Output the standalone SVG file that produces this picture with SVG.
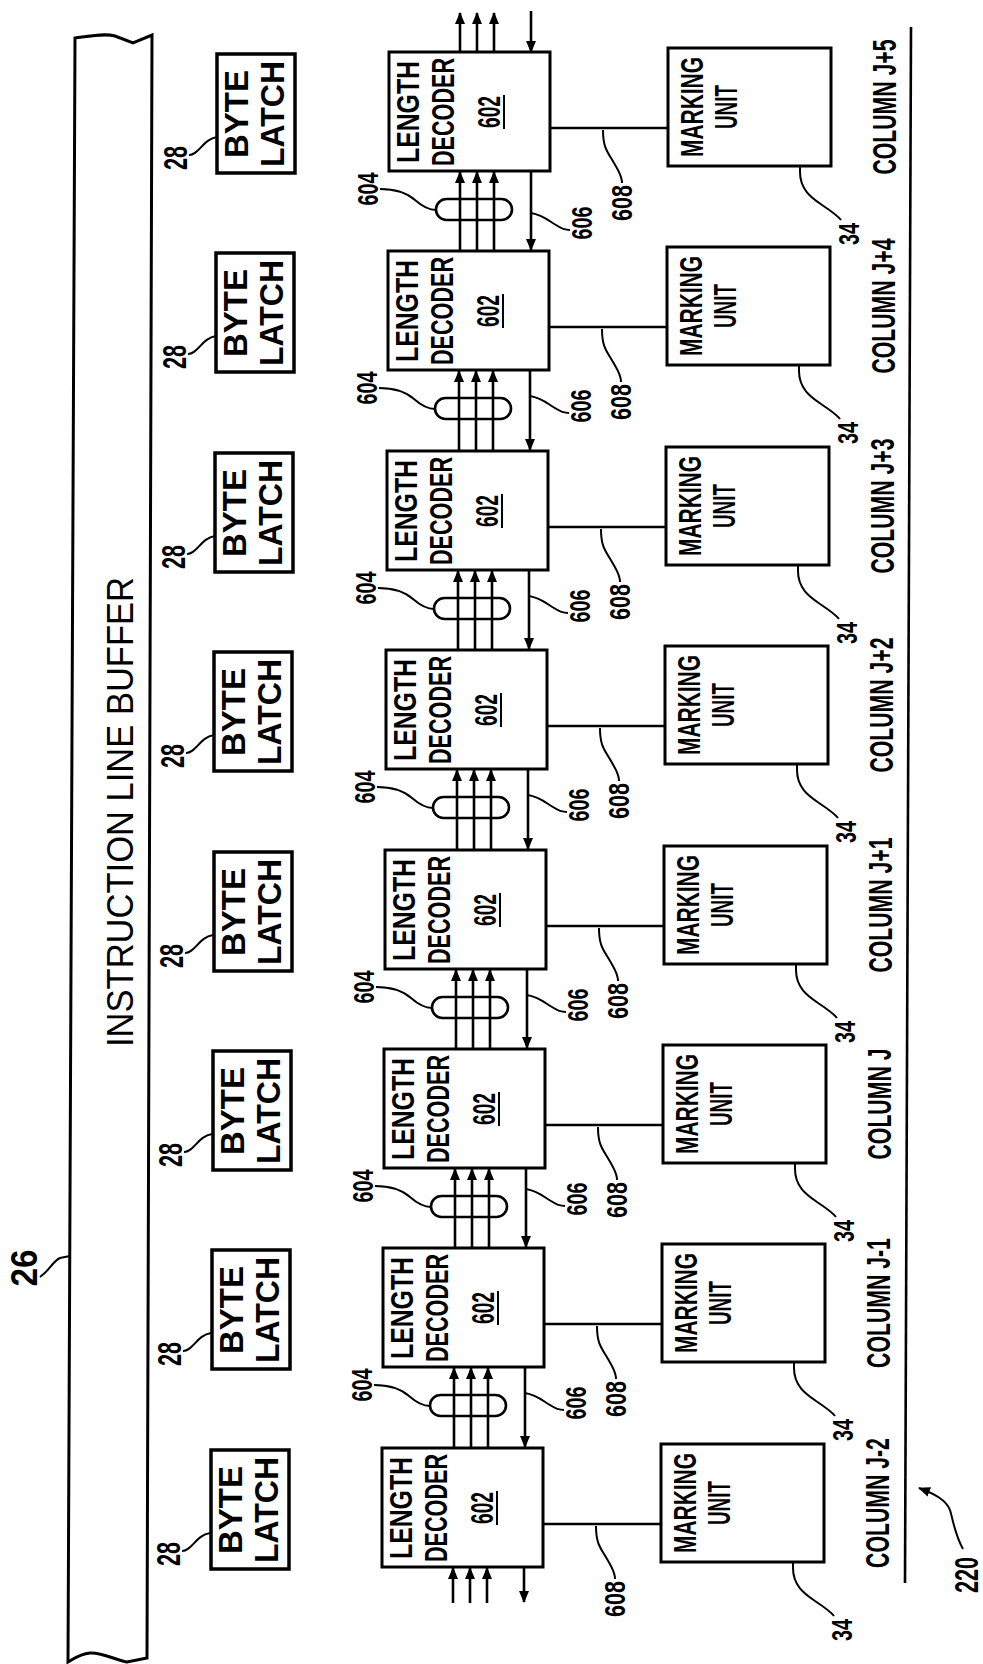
<svg xmlns="http://www.w3.org/2000/svg" width="983" height="1664" viewBox="0 0 983 1664">
<style>
.bx{fill:none;stroke:#000;stroke-width:3}
.bl{fill:none;stroke:#000;stroke-width:3.5}
.ln{fill:none;stroke:#000;stroke-width:2.6}
.ld{fill:none;stroke:#000;stroke-width:2}
.ar{fill:none;stroke:#000;stroke-width:2.6;marker-end:url(#ah)}
text{font-family:"Liberation Sans",Arial,sans-serif;fill:#000;font-weight:bold}
text.reg{font-weight:normal}
text.col{font-size:34px;text-anchor:middle}
.s31{font-size:31px}
.s33{font-size:33px}
.s34{font-size:34px}
.s30{font-size:30px}
.s36{font-size:36px}
</style>
<defs>
<marker id="ah" viewBox="0 0 12 10" refX="11" refY="5" markerWidth="12" markerHeight="10" orient="auto" markerUnits="userSpaceOnUse"><path d="M0,0 L12,5 L0,10 Z" fill="#000"/></marker>
</defs>
<rect width="983" height="1664" fill="#fff"/>

<g id="buffer">
<path class="bx" d="M75,38 C90,36 105,33 115,36 L133,43 L152,35 L147,1658 L127,1662 C115,1660 102,1652 90,1653 C80,1654 75,1658 68,1662 Z"/>
<text class="s36 reg" transform="translate(133,812) rotate(-90)" x="-235" textLength="470" lengthAdjust="spacingAndGlyphs">INSTRUCTION LINE BUFFER</text>
</g>

<!-- byte latches -->
<g id="bl-j5" transform="translate(217,54)"><rect class="bl" width="78" height="119"/><text class="s33" transform="translate(31,60) rotate(-90)" x="-44" textLength="88" lengthAdjust="spacingAndGlyphs">BYTE</text><text class="s33" transform="translate(67,60) rotate(-90)" x="-53" textLength="106" lengthAdjust="spacingAndGlyphs">LATCH</text></g>
<g id="bl-j4" transform="translate(216,253)"><rect class="bl" width="78" height="119"/><text class="s33" transform="translate(31,60) rotate(-90)" x="-44" textLength="88" lengthAdjust="spacingAndGlyphs">BYTE</text><text class="s33" transform="translate(67,60) rotate(-90)" x="-53" textLength="106" lengthAdjust="spacingAndGlyphs">LATCH</text></g>
<g id="bl-j3" transform="translate(215,453)"><rect class="bl" width="78" height="119"/><text class="s33" transform="translate(31,60) rotate(-90)" x="-44" textLength="88" lengthAdjust="spacingAndGlyphs">BYTE</text><text class="s33" transform="translate(67,60) rotate(-90)" x="-53" textLength="106" lengthAdjust="spacingAndGlyphs">LATCH</text></g>
<g id="bl-j2" transform="translate(214,652)"><rect class="bl" width="78" height="119"/><text class="s33" transform="translate(31,60) rotate(-90)" x="-44" textLength="88" lengthAdjust="spacingAndGlyphs">BYTE</text><text class="s33" transform="translate(67,60) rotate(-90)" x="-53" textLength="106" lengthAdjust="spacingAndGlyphs">LATCH</text></g>
<g id="bl-j1" transform="translate(214,852)"><rect class="bl" width="78" height="119"/><text class="s33" transform="translate(31,60) rotate(-90)" x="-44" textLength="88" lengthAdjust="spacingAndGlyphs">BYTE</text><text class="s33" transform="translate(67,60) rotate(-90)" x="-53" textLength="106" lengthAdjust="spacingAndGlyphs">LATCH</text></g>
<g id="bl-j" transform="translate(213,1051)"><rect class="bl" width="78" height="119"/><text class="s33" transform="translate(31,60) rotate(-90)" x="-44" textLength="88" lengthAdjust="spacingAndGlyphs">BYTE</text><text class="s33" transform="translate(67,60) rotate(-90)" x="-53" textLength="106" lengthAdjust="spacingAndGlyphs">LATCH</text></g>
<g id="bl-jm1" transform="translate(212,1250)"><rect class="bl" width="78" height="119"/><text class="s33" transform="translate(31,60) rotate(-90)" x="-44" textLength="88" lengthAdjust="spacingAndGlyphs">BYTE</text><text class="s33" transform="translate(67,60) rotate(-90)" x="-53" textLength="106" lengthAdjust="spacingAndGlyphs">LATCH</text></g>
<g id="bl-jm2" transform="translate(211,1450)"><rect class="bl" width="78" height="119"/><text class="s33" transform="translate(31,60) rotate(-90)" x="-44" textLength="88" lengthAdjust="spacingAndGlyphs">BYTE</text><text class="s33" transform="translate(67,60) rotate(-90)" x="-53" textLength="106" lengthAdjust="spacingAndGlyphs">LATCH</text></g>

<!-- length decoders -->
<g id="ld-j5" transform="translate(389,52)"><rect class="bx" width="161" height="119"/><text class="s31" transform="translate(30,60) rotate(-90)" x="-51" textLength="102" lengthAdjust="spacingAndGlyphs">LENGTH</text><text class="s31" transform="translate(65,60) rotate(-90)" x="-54" textLength="108" lengthAdjust="spacingAndGlyphs">DECODER</text><text class="s31" transform="translate(111,60) rotate(-90)" x="-16" textLength="32" lengthAdjust="spacingAndGlyphs">602</text><path class="ld" d="M115,43 V77"/></g>
<g id="ld-j4" transform="translate(388,251)"><rect class="bx" width="161" height="119"/><text class="s31" transform="translate(30,60) rotate(-90)" x="-51" textLength="102" lengthAdjust="spacingAndGlyphs">LENGTH</text><text class="s31" transform="translate(65,60) rotate(-90)" x="-54" textLength="108" lengthAdjust="spacingAndGlyphs">DECODER</text><text class="s31" transform="translate(111,60) rotate(-90)" x="-16" textLength="32" lengthAdjust="spacingAndGlyphs">602</text><path class="ld" d="M115,43 V77"/></g>
<g id="ld-j3" transform="translate(387,451)"><rect class="bx" width="161" height="119"/><text class="s31" transform="translate(30,60) rotate(-90)" x="-51" textLength="102" lengthAdjust="spacingAndGlyphs">LENGTH</text><text class="s31" transform="translate(65,60) rotate(-90)" x="-54" textLength="108" lengthAdjust="spacingAndGlyphs">DECODER</text><text class="s31" transform="translate(111,60) rotate(-90)" x="-16" textLength="32" lengthAdjust="spacingAndGlyphs">602</text><path class="ld" d="M115,43 V77"/></g>
<g id="ld-j2" transform="translate(386,650)"><rect class="bx" width="161" height="119"/><text class="s31" transform="translate(30,60) rotate(-90)" x="-51" textLength="102" lengthAdjust="spacingAndGlyphs">LENGTH</text><text class="s31" transform="translate(65,60) rotate(-90)" x="-54" textLength="108" lengthAdjust="spacingAndGlyphs">DECODER</text><text class="s31" transform="translate(111,60) rotate(-90)" x="-16" textLength="32" lengthAdjust="spacingAndGlyphs">602</text><path class="ld" d="M115,43 V77"/></g>
<g id="ld-j1" transform="translate(385,850)"><rect class="bx" width="161" height="119"/><text class="s31" transform="translate(30,60) rotate(-90)" x="-51" textLength="102" lengthAdjust="spacingAndGlyphs">LENGTH</text><text class="s31" transform="translate(65,60) rotate(-90)" x="-54" textLength="108" lengthAdjust="spacingAndGlyphs">DECODER</text><text class="s31" transform="translate(111,60) rotate(-90)" x="-16" textLength="32" lengthAdjust="spacingAndGlyphs">602</text><path class="ld" d="M115,43 V77"/></g>
<g id="ld-j" transform="translate(384,1049)"><rect class="bx" width="161" height="119"/><text class="s31" transform="translate(30,60) rotate(-90)" x="-51" textLength="102" lengthAdjust="spacingAndGlyphs">LENGTH</text><text class="s31" transform="translate(65,60) rotate(-90)" x="-54" textLength="108" lengthAdjust="spacingAndGlyphs">DECODER</text><text class="s31" transform="translate(111,60) rotate(-90)" x="-16" textLength="32" lengthAdjust="spacingAndGlyphs">602</text><path class="ld" d="M115,43 V77"/></g>
<g id="ld-jm1" transform="translate(383,1248)"><rect class="bx" width="161" height="119"/><text class="s31" transform="translate(30,60) rotate(-90)" x="-51" textLength="102" lengthAdjust="spacingAndGlyphs">LENGTH</text><text class="s31" transform="translate(65,60) rotate(-90)" x="-54" textLength="108" lengthAdjust="spacingAndGlyphs">DECODER</text><text class="s31" transform="translate(111,60) rotate(-90)" x="-16" textLength="32" lengthAdjust="spacingAndGlyphs">602</text><path class="ld" d="M115,43 V77"/></g>
<g id="ld-jm2" transform="translate(382,1448)"><rect class="bx" width="161" height="119"/><text class="s31" transform="translate(30,60) rotate(-90)" x="-51" textLength="102" lengthAdjust="spacingAndGlyphs">LENGTH</text><text class="s31" transform="translate(65,60) rotate(-90)" x="-54" textLength="108" lengthAdjust="spacingAndGlyphs">DECODER</text><text class="s31" transform="translate(111,60) rotate(-90)" x="-16" textLength="32" lengthAdjust="spacingAndGlyphs">602</text><path class="ld" d="M115,43 V77"/></g>

<!-- marking units -->
<g id="mu-j5" transform="translate(668,48)"><rect class="bx" width="163" height="118"/><text class="s31" transform="translate(35,59) rotate(-90)" x="-50" textLength="100" lengthAdjust="spacingAndGlyphs">MARKING</text><text class="s31" transform="translate(69,59) rotate(-90)" x="-22" textLength="44" lengthAdjust="spacingAndGlyphs">UNIT</text></g>
<g id="mu-j4" transform="translate(667,247)"><rect class="bx" width="163" height="118"/><text class="s31" transform="translate(35,59) rotate(-90)" x="-50" textLength="100" lengthAdjust="spacingAndGlyphs">MARKING</text><text class="s31" transform="translate(69,59) rotate(-90)" x="-22" textLength="44" lengthAdjust="spacingAndGlyphs">UNIT</text></g>
<g id="mu-j3" transform="translate(666,447)"><rect class="bx" width="163" height="118"/><text class="s31" transform="translate(35,59) rotate(-90)" x="-50" textLength="100" lengthAdjust="spacingAndGlyphs">MARKING</text><text class="s31" transform="translate(69,59) rotate(-90)" x="-22" textLength="44" lengthAdjust="spacingAndGlyphs">UNIT</text></g>
<g id="mu-j2" transform="translate(665,646)"><rect class="bx" width="163" height="118"/><text class="s31" transform="translate(35,59) rotate(-90)" x="-50" textLength="100" lengthAdjust="spacingAndGlyphs">MARKING</text><text class="s31" transform="translate(69,59) rotate(-90)" x="-22" textLength="44" lengthAdjust="spacingAndGlyphs">UNIT</text></g>
<g id="mu-j1" transform="translate(664,846)"><rect class="bx" width="163" height="118"/><text class="s31" transform="translate(35,59) rotate(-90)" x="-50" textLength="100" lengthAdjust="spacingAndGlyphs">MARKING</text><text class="s31" transform="translate(69,59) rotate(-90)" x="-22" textLength="44" lengthAdjust="spacingAndGlyphs">UNIT</text></g>
<g id="mu-j" transform="translate(663,1045)"><rect class="bx" width="163" height="118"/><text class="s31" transform="translate(35,59) rotate(-90)" x="-50" textLength="100" lengthAdjust="spacingAndGlyphs">MARKING</text><text class="s31" transform="translate(69,59) rotate(-90)" x="-22" textLength="44" lengthAdjust="spacingAndGlyphs">UNIT</text></g>
<g id="mu-jm1" transform="translate(662,1244)"><rect class="bx" width="163" height="118"/><text class="s31" transform="translate(35,59) rotate(-90)" x="-50" textLength="100" lengthAdjust="spacingAndGlyphs">MARKING</text><text class="s31" transform="translate(69,59) rotate(-90)" x="-22" textLength="44" lengthAdjust="spacingAndGlyphs">UNIT</text></g>
<g id="mu-jm2" transform="translate(661,1444)"><rect class="bx" width="163" height="118"/><text class="s31" transform="translate(35,59) rotate(-90)" x="-50" textLength="100" lengthAdjust="spacingAndGlyphs">MARKING</text><text class="s31" transform="translate(69,59) rotate(-90)" x="-22" textLength="44" lengthAdjust="spacingAndGlyphs">UNIT</text></g>

<!-- column boundary line -->
<g id="column-line"><path class="ln" d="M911,27 L905,1583"/></g>

<!-- connectors -->
<g id="connectors">
<path class="ld" d="M40,1277 C50,1270 52,1262 60,1258 L70,1256"/>
<path class="ld" d="M963,1549 C955,1535 953,1520 950,1510 C946,1500 935,1494 919,1488" marker-end="url(#ah)"/>
<g transform="translate(389,52)">
<path class="ar" d="M71,0 V-39"/><path class="ar" d="M88,0 V-39"/><path class="ar" d="M105,0 V-39"/><path class="ar" d="M142,-41 V0"/>
<path class="ln" d="M161,76 H279"/><path class="ld" d="M214,78 c0,15 3,20 8,28 c6,10 11,18 11,25"/>
<path class="ar" d="M71,199 V120"/><path class="ar" d="M88,199 V120"/><path class="ar" d="M105,199 V120"/><path class="ar" d="M142,119 V198"/>
<rect class="ln" x="47" y="147" width="76" height="21" rx="10.5"/>
<path class="ld" d="M-9,137 C8,137 18,141 26,148 S40,158 47,158"/>
<path class="ld" d="M142,161 c12,2 18,8 25,12 c6,4 10,5 14,5"/>
<path class="ld" d="M411,114 v6 c0,18 12,26 22,33 c9,6 16,11 19,15"/>
<path class="ld" d="M-200,103 C-190,103 -186,87 -172,85"/>
</g>
<g transform="translate(388,251)">
<path class="ln" d="M161,76 H279"/><path class="ld" d="M214,78 c0,15 3,20 8,28 c6,10 11,18 11,25"/>
<path class="ar" d="M71,200 V120"/><path class="ar" d="M88,200 V120"/><path class="ar" d="M105,200 V120"/><path class="ar" d="M142,119 V199"/>
<rect class="ln" x="47" y="147" width="76" height="21" rx="10.5"/>
<path class="ld" d="M-9,137 C8,137 18,141 26,148 S40,158 47,158"/>
<path class="ld" d="M142,145 c12,2 18,8 25,12 c6,4 10,5 14,5"/>
<path class="ld" d="M411,114 v6 c0,18 12,26 22,33 c9,6 16,11 19,15"/>
<path class="ld" d="M-200,103 C-190,103 -186,87 -172,85"/>
</g>
<g transform="translate(387,451)">
<path class="ln" d="M161,76 H279"/><path class="ld" d="M214,78 c0,15 3,20 8,28 c6,10 11,18 11,25"/>
<path class="ar" d="M71,199 V120"/><path class="ar" d="M88,199 V120"/><path class="ar" d="M105,199 V120"/><path class="ar" d="M142,119 V198"/>
<rect class="ln" x="47" y="147" width="76" height="21" rx="10.5"/>
<path class="ld" d="M-9,137 C8,137 18,141 26,148 S40,158 47,158"/>
<path class="ld" d="M142,145 c12,2 18,8 25,12 c6,4 10,5 14,5"/>
<path class="ld" d="M411,114 v6 c0,18 12,26 22,33 c9,6 16,11 19,15"/>
<path class="ld" d="M-200,103 C-190,103 -186,87 -172,85"/>
</g>
<g transform="translate(386,650)">
<path class="ln" d="M161,76 H279"/><path class="ld" d="M214,78 c0,15 3,20 8,28 c6,10 11,18 11,25"/>
<path class="ar" d="M71,200 V120"/><path class="ar" d="M88,200 V120"/><path class="ar" d="M105,200 V120"/><path class="ar" d="M142,119 V199"/>
<rect class="ln" x="47" y="147" width="76" height="21" rx="10.5"/>
<path class="ld" d="M-9,137 C8,137 18,141 26,148 S40,158 47,158"/>
<path class="ld" d="M142,145 c12,2 18,8 25,12 c6,4 10,5 14,5"/>
<path class="ld" d="M411,114 v6 c0,18 12,26 22,33 c9,6 16,11 19,15"/>
<path class="ld" d="M-200,103 C-190,103 -186,87 -172,85"/>
</g>
<g transform="translate(385,850)">
<path class="ln" d="M161,76 H279"/><path class="ld" d="M214,78 c0,15 3,20 8,28 c6,10 11,18 11,25"/>
<path class="ar" d="M71,199 V120"/><path class="ar" d="M88,199 V120"/><path class="ar" d="M105,199 V120"/><path class="ar" d="M142,119 V198"/>
<rect class="ln" x="47" y="147" width="76" height="21" rx="10.5"/>
<path class="ld" d="M-9,137 C8,137 18,141 26,148 S40,158 47,158"/>
<path class="ld" d="M142,145 c12,2 18,8 25,12 c6,4 10,5 14,5"/>
<path class="ld" d="M411,114 v6 c0,18 12,26 22,33 c9,6 16,11 19,15"/>
<path class="ld" d="M-200,103 C-190,103 -186,87 -172,85"/>
</g>
<g transform="translate(384,1049)">
<path class="ln" d="M161,76 H279"/><path class="ld" d="M214,78 c0,15 3,20 8,28 c6,10 11,18 11,25"/>
<path class="ar" d="M71,199 V120"/><path class="ar" d="M88,199 V120"/><path class="ar" d="M105,199 V120"/><path class="ar" d="M142,119 V198"/>
<rect class="ln" x="47" y="147" width="76" height="21" rx="10.5"/>
<path class="ld" d="M-9,137 C8,137 18,141 26,148 S40,158 47,158"/>
<path class="ld" d="M142,140 c12,2 18,8 25,12 c6,4 10,5 14,5"/>
<path class="ld" d="M411,114 v6 c0,18 12,26 22,33 c9,6 16,11 19,15"/>
<path class="ld" d="M-200,103 C-190,103 -186,87 -172,85"/>
</g>
<g transform="translate(383,1248)">
<path class="ln" d="M161,76 H279"/><path class="ld" d="M214,78 c0,15 3,20 8,28 c6,10 11,18 11,25"/>
<path class="ar" d="M71,200 V120"/><path class="ar" d="M88,200 V120"/><path class="ar" d="M105,200 V120"/><path class="ar" d="M142,119 V199"/>
<rect class="ln" x="47" y="147" width="76" height="21" rx="10.5"/>
<path class="ld" d="M-9,137 C8,137 18,141 26,148 S40,158 47,158"/>
<path class="ld" d="M142,145 c12,2 18,8 25,12 c6,4 10,5 14,5"/>
<path class="ld" d="M411,114 v6 c0,18 12,26 22,33 c9,6 16,11 19,15"/>
<path class="ld" d="M-200,103 C-190,103 -186,87 -172,85"/>
</g>
<g transform="translate(382,1448)">
<path class="ln" d="M161,76 H279"/><path class="ld" d="M214,78 c0,15 3,20 8,28 c6,10 11,18 11,25"/>
<path class="ar" d="M71,155 V120"/><path class="ar" d="M88,155 V120"/><path class="ar" d="M105,155 V120"/><path class="ar" d="M142,120 V154"/>
<path class="ld" d="M411,114 v6 c0,18 12,26 22,33 c9,6 16,11 19,15"/>
<path class="ld" d="M-200,103 C-190,103 -186,87 -172,85"/>
</g>
</g>

<!-- labels -->
<g id="labels">
<text class="s36" transform="translate(37,1268) rotate(-90)" x="-18.5" textLength="37" lengthAdjust="spacingAndGlyphs">26</text>
<text class="s34" transform="translate(978,1575) rotate(-90)" x="-18" textLength="36" lengthAdjust="spacingAndGlyphs">220</text>
<g transform="translate(389,52)">
<text class="s30" transform="translate(-11,137) rotate(-90)" x="-16.5" textLength="33" lengthAdjust="spacingAndGlyphs">604</text>
<text class="s30" transform="translate(203,171) rotate(-90)" x="-16.5" textLength="33" lengthAdjust="spacingAndGlyphs">606</text>
<text class="s30" transform="translate(243,151) rotate(-90)" x="-18" textLength="36" lengthAdjust="spacingAndGlyphs">608</text>
<text class="s30" transform="translate(470,182) rotate(-90)" x="-11" textLength="22" lengthAdjust="spacingAndGlyphs">34</text>
<text class="s34" transform="translate(-202,106) rotate(-90)" x="-12" textLength="24" lengthAdjust="spacingAndGlyphs">28</text>
<text class="col" transform="translate(507,55) rotate(-90) scale(0.625,1)">COLUMN J+5</text>
</g>
<g transform="translate(388,251)">
<text class="s30" transform="translate(-11,137) rotate(-90)" x="-16.5" textLength="33" lengthAdjust="spacingAndGlyphs">604</text>
<text class="s30" transform="translate(203,155) rotate(-90)" x="-16.5" textLength="33" lengthAdjust="spacingAndGlyphs">606</text>
<text class="s30" transform="translate(243,151) rotate(-90)" x="-18" textLength="36" lengthAdjust="spacingAndGlyphs">608</text>
<text class="s30" transform="translate(470,182) rotate(-90)" x="-11" textLength="22" lengthAdjust="spacingAndGlyphs">34</text>
<text class="s34" transform="translate(-202,106) rotate(-90)" x="-12" textLength="24" lengthAdjust="spacingAndGlyphs">28</text>
<text class="col" transform="translate(507,55) rotate(-90) scale(0.625,1)">COLUMN J+4</text>
</g>
<g transform="translate(387,451)">
<text class="s30" transform="translate(-11,137) rotate(-90)" x="-16.5" textLength="33" lengthAdjust="spacingAndGlyphs">604</text>
<text class="s30" transform="translate(203,155) rotate(-90)" x="-16.5" textLength="33" lengthAdjust="spacingAndGlyphs">606</text>
<text class="s30" transform="translate(243,151) rotate(-90)" x="-18" textLength="36" lengthAdjust="spacingAndGlyphs">608</text>
<text class="s30" transform="translate(470,182) rotate(-90)" x="-11" textLength="22" lengthAdjust="spacingAndGlyphs">34</text>
<text class="s34" transform="translate(-202,106) rotate(-90)" x="-12" textLength="24" lengthAdjust="spacingAndGlyphs">28</text>
<text class="col" transform="translate(507,55) rotate(-90) scale(0.625,1)">COLUMN J+3</text>
</g>
<g transform="translate(386,650)">
<text class="s30" transform="translate(-11,137) rotate(-90)" x="-16.5" textLength="33" lengthAdjust="spacingAndGlyphs">604</text>
<text class="s30" transform="translate(203,155) rotate(-90)" x="-16.5" textLength="33" lengthAdjust="spacingAndGlyphs">606</text>
<text class="s30" transform="translate(243,151) rotate(-90)" x="-18" textLength="36" lengthAdjust="spacingAndGlyphs">608</text>
<text class="s30" transform="translate(470,182) rotate(-90)" x="-11" textLength="22" lengthAdjust="spacingAndGlyphs">34</text>
<text class="s34" transform="translate(-202,106) rotate(-90)" x="-12" textLength="24" lengthAdjust="spacingAndGlyphs">28</text>
<text class="col" transform="translate(507,55) rotate(-90) scale(0.625,1)">COLUMN J+2</text>
</g>
<g transform="translate(385,850)">
<text class="s30" transform="translate(-11,137) rotate(-90)" x="-16.5" textLength="33" lengthAdjust="spacingAndGlyphs">604</text>
<text class="s30" transform="translate(203,155) rotate(-90)" x="-16.5" textLength="33" lengthAdjust="spacingAndGlyphs">606</text>
<text class="s30" transform="translate(243,151) rotate(-90)" x="-18" textLength="36" lengthAdjust="spacingAndGlyphs">608</text>
<text class="s30" transform="translate(470,182) rotate(-90)" x="-11" textLength="22" lengthAdjust="spacingAndGlyphs">34</text>
<text class="s34" transform="translate(-202,106) rotate(-90)" x="-12" textLength="24" lengthAdjust="spacingAndGlyphs">28</text>
<text class="col" transform="translate(507,55) rotate(-90) scale(0.625,1)">COLUMN J+1</text>
</g>
<g transform="translate(384,1049)">
<text class="s30" transform="translate(-11,137) rotate(-90)" x="-16.5" textLength="33" lengthAdjust="spacingAndGlyphs">604</text>
<text class="s30" transform="translate(203,150) rotate(-90)" x="-16.5" textLength="33" lengthAdjust="spacingAndGlyphs">606</text>
<text class="s30" transform="translate(243,151) rotate(-90)" x="-18" textLength="36" lengthAdjust="spacingAndGlyphs">608</text>
<text class="s30" transform="translate(470,182) rotate(-90)" x="-11" textLength="22" lengthAdjust="spacingAndGlyphs">34</text>
<text class="s34" transform="translate(-202,106) rotate(-90)" x="-12" textLength="24" lengthAdjust="spacingAndGlyphs">28</text>
<text class="col" transform="translate(507,55) rotate(-90) scale(0.625,1)">COLUMN J</text>
</g>
<g transform="translate(383,1248)">
<text class="s30" transform="translate(-11,137) rotate(-90)" x="-16.5" textLength="33" lengthAdjust="spacingAndGlyphs">604</text>
<text class="s30" transform="translate(203,155) rotate(-90)" x="-16.5" textLength="33" lengthAdjust="spacingAndGlyphs">606</text>
<text class="s30" transform="translate(243,151) rotate(-90)" x="-18" textLength="36" lengthAdjust="spacingAndGlyphs">608</text>
<text class="s30" transform="translate(470,182) rotate(-90)" x="-11" textLength="22" lengthAdjust="spacingAndGlyphs">34</text>
<text class="s34" transform="translate(-202,106) rotate(-90)" x="-12" textLength="24" lengthAdjust="spacingAndGlyphs">28</text>
<text class="col" transform="translate(507,55) rotate(-90) scale(0.625,1)">COLUMN J-1</text>
</g>
<g transform="translate(382,1448)">
<text class="s30" transform="translate(243,151) rotate(-90)" x="-18" textLength="36" lengthAdjust="spacingAndGlyphs">608</text>
<text class="s30" transform="translate(470,182) rotate(-90)" x="-11" textLength="22" lengthAdjust="spacingAndGlyphs">34</text>
<text class="s34" transform="translate(-202,106) rotate(-90)" x="-12" textLength="24" lengthAdjust="spacingAndGlyphs">28</text>
<text class="col" transform="translate(507,55) rotate(-90) scale(0.625,1)">COLUMN J-2</text>
</g>
</g>
</svg>
